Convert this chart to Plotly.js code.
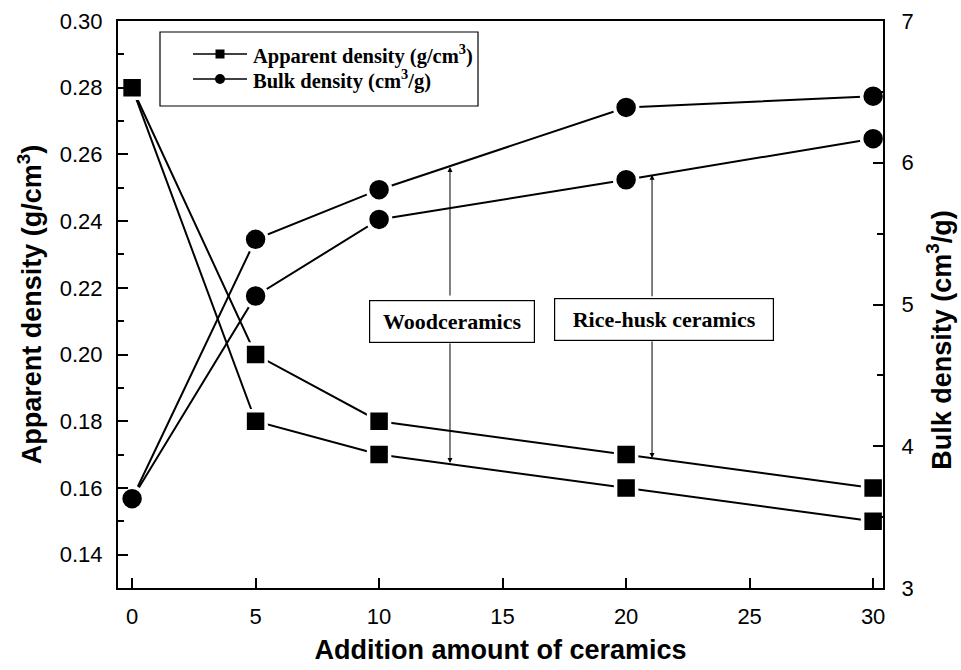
<!DOCTYPE html>
<html>
<head>
<meta charset="utf-8">
<script src="https://cdn.plot.ly/plotly-3.0.1.min.js"></script>
<style>html,body{margin:0;padding:0;background:#fff;}#chart{width:961px;height:670px;}</style>
</head>
<body>
<div id="chart"></div>
<script>
// Data
const additionAmount = [0, 5, 10, 20, 30];
const woodApparent = [0.28, 0.18, 0.17, 0.16, 0.15];
const riceApparent = [0.28, 0.20, 0.18, 0.17, 0.16];
const woodBulk = [3.63, 5.46, 5.81, 6.39, 6.47];
const riceBulk = [3.63, 5.06, 5.60, 5.88, 6.17];
const legendLabels = ['Apparent density (g/cm<sup>3</sup>)', 'Bulk density (cm<sup>3</sup>/g)'];
const xTicks = [0, 5, 10, 15, 20, 25, 30];
const leftTicks = [0.14, 0.16, 0.18, 0.20, 0.22, 0.24, 0.26, 0.28, 0.30];
const rightTicks = [3, 4, 5, 6, 7];

const serif = 'Liberation Serif, Times New Roman, serif';
const sans = 'Liberation Sans, Arial, sans-serif';

function sq(y, name) {
  return {x: additionAmount, y: y, name: name, mode: 'lines+markers', yaxis: 'y', showlegend: false,
    line: {color: '#000', width: 2},
    marker: {symbol: 'square', size: 21, color: '#000', line: {color: '#fff', width: 3.5}},
    hoverinfo: 'x+y'};
}
function ci(y, name) {
  return {x: additionAmount, y: y, name: name, mode: 'lines+markers', yaxis: 'y2', showlegend: false,
    line: {color: '#000', width: 2},
    marker: {symbol: 'circle', size: 23, color: '#000', line: {color: '#fff', width: 3.5}},
    hoverinfo: 'x+y'};
}

const traces = [
  sq(woodApparent, 'Woodceramics apparent density'),
  sq(riceApparent, 'Rice-husk ceramics apparent density'),
  ci(woodBulk, 'Woodceramics bulk density'),
  ci(riceBulk, 'Rice-husk ceramics bulk density')
];

function arrow(x, y, yref, ay) {
  return {x: x, y: y, xref: 'x', yref: yref, ax: 0, ay: ay, axref: 'pixel', ayref: 'pixel',
    text: '', showarrow: true, arrowhead: 2, arrowsize: 1, arrowwidth: 1, arrowcolor: '#000', standoff: 0};
}
function box(x, y, text, w) {
  return {x: x, y: y, xref: 'x', yref: 'y', text: '<b>' + text + '</b>', showarrow: false,
    font: {family: serif, size: 22, color: '#000'}, bgcolor: '#fff', bordercolor: '#000',
    borderwidth: 1.2, borderpad: 2, width: w, height: 37, xanchor: 'center', yanchor: 'middle'};
}

// Legend drawn as a framed key (paper coordinates)
const PL = 118, PW = 765, PB = 588, PH = 567;
const px = v => (v - PL) / PW;
const py = v => (PB - v) / PH;
const keyRows = [54, 79];
const legendShapes = [
  {type: 'rect', xref: 'paper', yref: 'paper', x0: px(160), x1: px(478), y0: py(106), y1: py(32),
   line: {color: '#000', width: 1.2}, fillcolor: '#fff', layer: 'above'}
];
keyRows.forEach((r, i) => {
  legendShapes.push({type: 'line', xref: 'paper', yref: 'paper', x0: px(193), x1: px(247), y0: py(r), y1: py(r),
    line: {color: '#000', width: 1.5}, layer: 'above'});
  const h = i === 0 ? 4.5 : 5;
  legendShapes.push({type: i === 0 ? 'rect' : 'circle', xref: 'paper', yref: 'paper',
    x0: px(220 - h), x1: px(220 + h), y0: py(r + h), y1: py(r - h),
    line: {color: '#000', width: 0}, fillcolor: '#000', layer: 'above'});
});
const legendTexts = keyRows.map((r, i) => ({xref: 'paper', yref: 'paper', x: px(251), y: py(r),
  xanchor: 'left', yanchor: 'middle', showarrow: false, text: '<b>' + legendLabels[i] + '</b>',
  font: {family: serif, size: 20.5, color: '#000'}}));

const layout = {
  width: 961, height: 670,
  margin: {l: 118, r: 78, t: 21, b: 82},
  paper_bgcolor: '#fff', plot_bgcolor: '#fff',
  showlegend: false,
  xaxis: {range: [-0.57, 30.4], tickvals: xTicks, ticks: 'inside', ticklen: 10, tickwidth: 2,
    tickcolor: '#000', showline: true, linecolor: '#000', linewidth: 2, mirror: true,
    showgrid: false, zeroline: false, ticklabelstandoff: 8,
    tickfont: {family: sans, size: 22, color: '#000'},
    title: {text: '<b>Addition amount of ceramics</b>', font: {family: sans, size: 27, color: '#000'}, standoff: 12}},
  yaxis: {range: [0.13, 0.30], tickvals: leftTicks, tickformat: '.2f', ticks: 'inside', ticklen: 10, tickwidth: 2,
    tickcolor: '#000', showline: true, linecolor: '#000', linewidth: 2, showgrid: false, zeroline: false,
    minor: {dtick: 0.01, ticks: 'inside', ticklen: 6, tickwidth: 2, tickcolor: '#000', showgrid: false},
    ticklabelstandoff: 9, tickfont: {family: sans, size: 22, color: '#000'},
    title: {text: '<b>Apparent density (g/cm<sup>3</sup>)</b>', font: {family: sans, size: 27, color: '#000'}, standoff: 10}},
  yaxis2: {range: [3, 7], tickvals: rightTicks, overlaying: 'y', side: 'right', ticks: 'inside', ticklen: 10, tickwidth: 2,
    tickcolor: '#000', showline: true, linecolor: '#000', linewidth: 2, showgrid: false, zeroline: false,
    minor: {dtick: 0.5, ticks: 'inside', ticklen: 6, tickwidth: 2, tickcolor: '#000', showgrid: false},
    ticklabelstandoff: 12, tickfont: {family: sans, size: 22, color: '#000'}},
  shapes: legendShapes,
  annotations: [
    arrow(12.87, 5.97, 'y2', 130),
    arrow(12.87, 0.1675, 'y', -121),
    arrow(21.05, 5.915, 'y2', 123),
    arrow(21.05, 0.169, 'y', -118),
    box(12.94, 0.2100, 'Woodceramics', 160),
    box(21.54, 0.2106, 'Rice-husk ceramics', 214),
    {xref: 'paper', yref: 'paper', x: 1.074, y: 0.437, xanchor: 'center', yanchor: 'middle',
     textangle: -90, showarrow: false, text: '<b>Bulk density (cm<sup>3</sup>/g)</b>',
     font: {family: sans, size: 27, color: '#000'}}
  ].concat(legendTexts)
};

Plotly.newPlot('chart', traces, layout, {displayModeBar: false, staticPlot: true});
</script>
</body>
</html>
